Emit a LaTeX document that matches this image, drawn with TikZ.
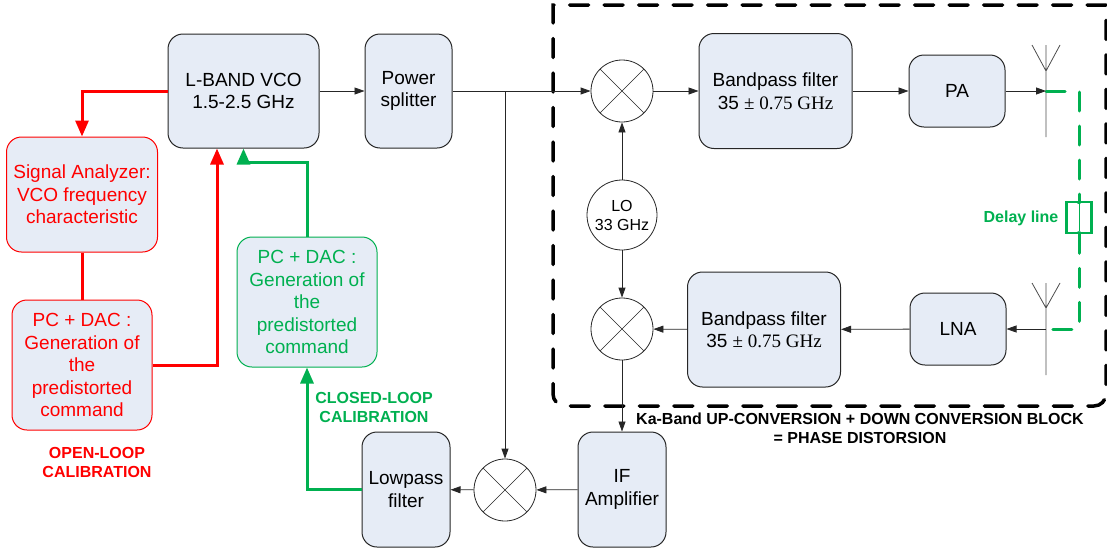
\documentclass[tikz,border=0pt]{standalone}
\usepackage{fontspec}
\setmainfont{Liberation Sans}
\newfontfamily\serifpart{Liberation Serif}
\usetikzlibrary{arrows.meta}
\definecolor{boxfill}{RGB}{230,236,246}
\definecolor{olred}{RGB}{255,0,0}
\definecolor{clgreen}{RGB}{0,176,80}
\newcommand{\boxfont}{\fontsize{19}{22.5}\selectfont}
\newcommand{\tagfont}{\bfseries\fontsize{16}{19}\selectfont}

\begin{document}
\begin{tikzpicture}[x=1pt,y=-1pt,
    blk/.style={draw=black!85,line width=1pt,fill=boxfill,rounded corners=15pt,
        align=center,inner sep=2pt,font=\boxfont},
    redblk/.style={blk,draw=olred,text=olred},
    grnblk/.style={blk,draw=clgreen,text=clgreen},
    mixer/.style={circle,draw=black!85,line width=0.8pt,minimum size=62pt,inner sep=0pt,
        path picture={\draw[black!85,line width=0.6pt]
            (path picture bounding box.north west) -- (path picture bounding box.south east)
            (path picture bounding box.north east) -- (path picture bounding box.south west);}},
    sig/.style={draw=black!85,line width=0.8pt,-{Triangle[length=10pt,width=7pt]}},
    redline/.style={draw=olred,line width=3pt},
    redsig/.style={redline,-{Triangle[length=16pt,width=13pt]}},
    grnsig/.style={draw=clgreen,line width=3pt,-{Triangle[length=16pt,width=13pt]}},
    dlyline/.style={draw=clgreen,line width=3pt,line cap=round,dash pattern=on 19pt off 15pt},
    antline/.style={draw=black!70,line width=0.8pt}]
\useasboundingbox (0,0) rectangle (1107,552);
% phase distortion block
\draw[line width=3.5pt,line cap=round,dash pattern=on 19pt off 15.5pt]
    (1106,5) -- (553,5) [rounded corners=12pt] -- (553,406) -- (1106,406) [sharp corners] -- (1106,5);
\node[font=\tagfont,align=center](katxt) at (860,428) {Ka-Band UP-CONVERSION + DOWN CONVERSION BLOCK\\= PHASE DISTORSION};
% blocks
\node[blk,minimum width=151pt,minimum height=114pt](vco) at (243.5,91) {L-BAND VCO\\1.5-2.5 GHz};
\node[blk,minimum width=87pt,minimum height=114pt](split) at (408.5,91) {Power\\splitter};
\node[redblk,minimum width=151pt,minimum height=115pt](sa) at (82,194.5) {Signal Analyzer:\\VCO frequency\\characteristic};
\node[redblk,minimum width=140pt,minimum height=130pt](pcol) at (82,365) {PC + DAC :\\Generation of\\the\\predistorted\\command};
\node[grnblk,minimum width=140pt,minimum height=130pt](pccl) at (307,302) {PC + DAC :\\Generation of\\the\\predistorted\\command};
\node[blk,minimum width=88pt,minimum height=115pt](lowpass) at (406,489.5) {Lowpass\\filter};
\node[blk,minimum width=88pt,minimum height=115pt](ifamp) at (622,489.5) {IF\\Amplifier};
\node[blk,minimum width=153pt,minimum height=115pt](bpf1) at (775.5,91) {Bandpass filter\\35 {\serifpart ± 0.75 GHz}};
\node[blk,minimum width=153pt,minimum height=115pt](bpf2) at (764,329.5) {Bandpass filter\\35 {\serifpart ± 0.75 GHz}};
\node[blk,minimum width=96pt,minimum height=72pt](pa) at (957,91) {PA};
\node[blk,minimum width=96pt,minimum height=72pt](lna) at (958,329) {LNA};
\node[mixer](mix1) at (622,91) {};
\node[mixer](mix2) at (622,329) {};
\node[mixer](mix3) at (505,490) {};
\node[circle,draw=black!85,line width=0.8pt,minimum size=70pt,inner sep=0pt,align=center,
    font=\fontsize{16}{19}\selectfont](lo) at (622,215) {LO\\33 GHz};
% antennas
\coordinate(ant1) at (1046,91);
\coordinate(ant2) at (1046,329);
\draw[antline] (1046,45) -- (1046,137) (1032,45) -- (1046,71) -- (1060,45);
\draw[antline] (1046,283) -- (1046,375) (1032,283) -- (1046,308) -- (1060,283);
\coordinate(br) at (505,91);
% delay line
\node[draw=clgreen,line width=2.5pt,minimum width=25pt,minimum height=31pt,inner sep=0pt](dly) at (1079,217.5) {};
\draw[dlyline] (ant1) -| (dly.north);
\draw[dlyline] (dly.south) |- (ant2);
\draw[clgreen,line width=1pt,{Triangle[length=3pt,width=3pt]}-{Triangle[length=3pt,width=3pt]}] (dly.north) -- (dly.south);
\node[text=clgreen,font=\tagfont](dlytxt) at (1021,218) {Delay line};
% signal path
\draw[sig] (vco) -- (split);
\draw[sig] (split) -- (mix1);
\draw[sig] (br) -- (mix3);
\draw[sig] (mix1) -- (bpf1);
\draw[sig] (bpf1) -- (pa);
\draw[sig] (pa) -- (ant1);
\draw[sig] (lo) -- (mix1);
\draw[sig] (lo) -- (mix2);
\draw[sig] (ant2) -- (lna);
\draw[sig] (lna) -- (bpf2);
\draw[sig] (bpf2) -- (mix2);
\draw[sig] (mix2) -- (ifamp);
\draw[sig] (ifamp) -- (mix3);
\draw[sig] (mix3) -- (lowpass);
% open loop
\draw[redsig] (vco.west) -| (sa.north);
\draw[redline] (sa) -- (pcol);
\draw[redsig] (pcol.east) -| ([xshift=-26.5pt]vco.south);
\node[text=olred,font=\tagfont,align=center](oltxt) at (97,462) {OPEN-LOOP\\CALIBRATION};
% closed loop
\draw[grnsig] (pccl.north) -- ++(0,-74) -| (vco.south);
\draw[grnsig] (lowpass.west) -| (pccl.south);
\node[text=clgreen,font=\tagfont,align=center](cltxt) at (374,407) {CLOSED-LOOP\\CALIBRATION};
\end{tikzpicture}
\end{document}
